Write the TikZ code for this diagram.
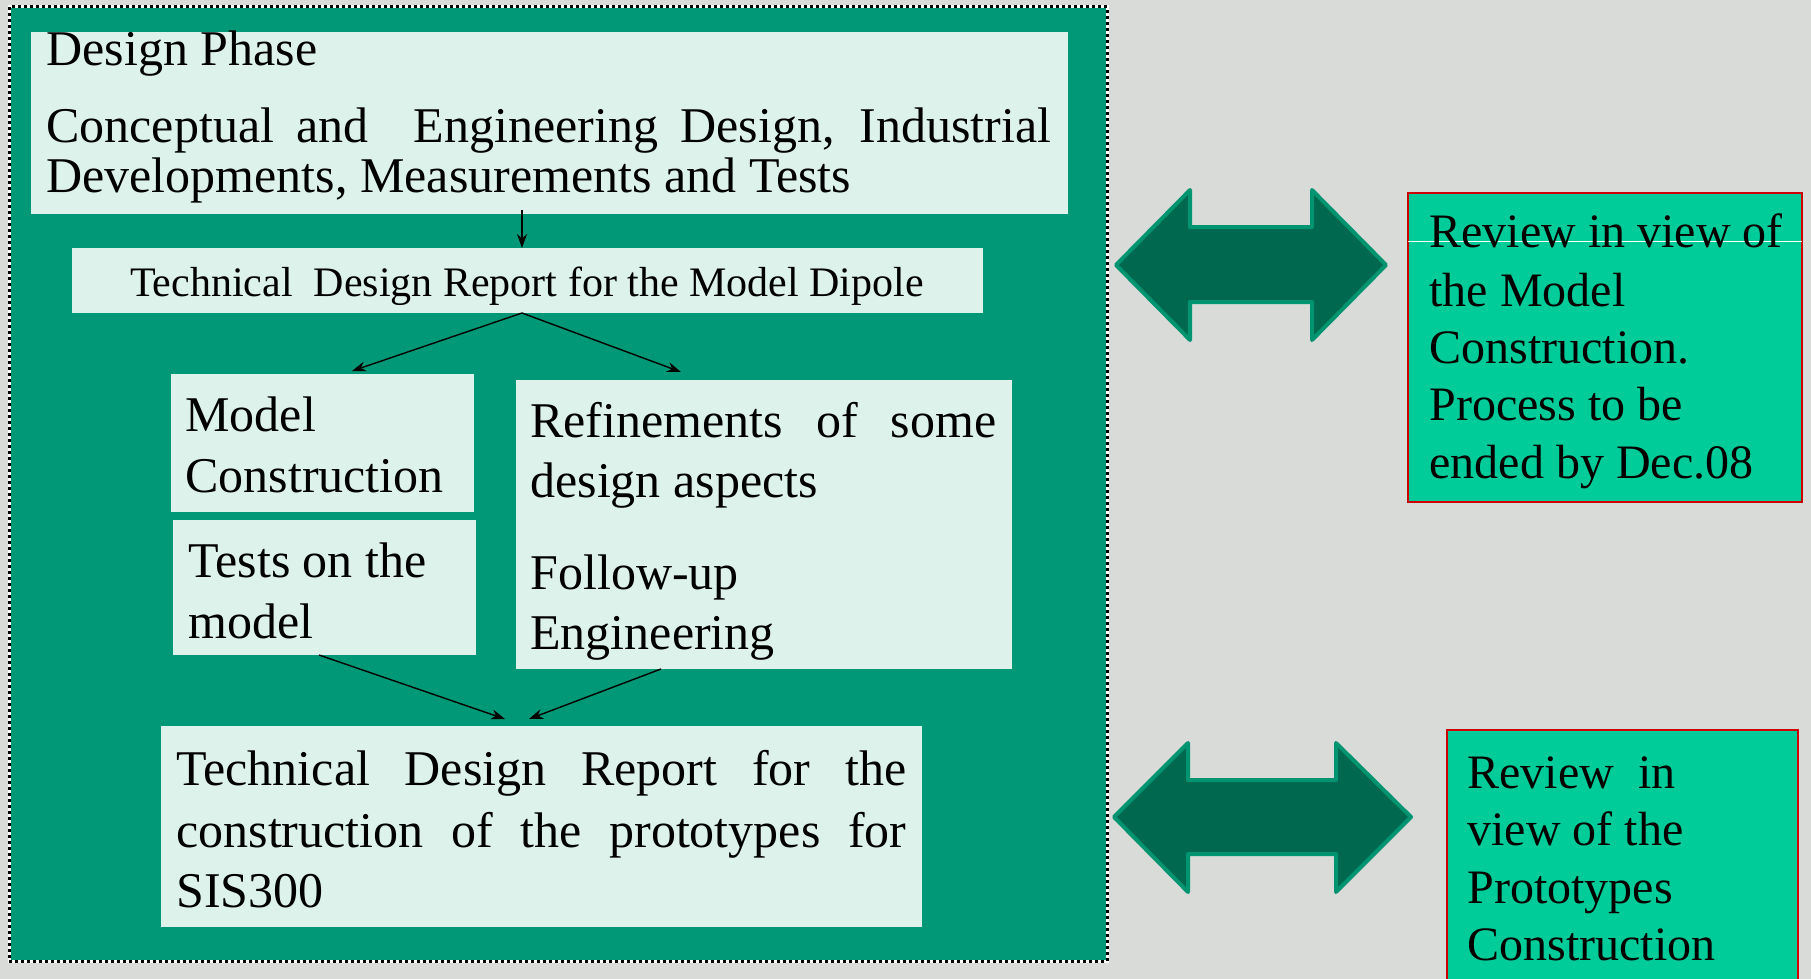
\documentclass[tikz,border=0pt]{standalone}
\usepackage{fontspec}
\setmainfont{Liberation Serif}
\usetikzlibrary{arrows.meta}
\definecolor{bgc}{HTML}{D8DBD7}
\definecolor{framec}{HTML}{009877}
\definecolor{mint}{HTML}{DDF2EA}
\definecolor{darr}{HTML}{00684E}
\definecolor{darredge}{HTML}{009470}
\definecolor{rboxc}{HTML}{00CC99}
\definecolor{rlinec}{HTML}{CC0000}
\tikzset{
  box/.style={fill=mint, draw=none, inner sep=0pt, outer sep=0pt, anchor=north west},
  rbox/.style={fill=rboxc, draw=rlinec, line width=1.4pt, inner sep=0pt, outer sep=0pt, anchor=north west},
  txt/.style={anchor=base west, inner sep=0pt, font=\fontsize{25}{30}\selectfont},
  rtxt/.style={anchor=base west, inner sep=0pt, font=\fontsize{24}{29}\selectfont},
  arr/.style={-{Stealth[length=7pt,width=5pt]}, line width=0.7pt, black},
  dblarrow/.style={fill=darr, draw=darredge, line width=2pt, line join=round}
}
\begin{document}
\begin{tikzpicture}[x=0.5pt,y=-0.5pt]
\clip (0,0) rectangle (1811,979);
\fill[bgc] (0,0) rectangle (1811,979);
% outer frame
\fill[framec] (9,7) rectangle (1107,961);
\draw[white, line width=1.5pt] (9,7) rectangle (1107,961);
\draw[black, line width=1.5pt, dash pattern=on 1.5pt off 1.5pt] (9,7) rectangle (1107,961);

% boxes
\node[box, minimum width=518.5pt, minimum height=91pt] (b1) at (31,32) {};
\node[box, minimum width=455.5pt, minimum height=32.5pt] (b2) at (72,248) {};
\node[box, minimum width=151.5pt, minimum height=69pt] (b3) at (171,374) {};
\node[box, minimum width=151.5pt, minimum height=67.5pt] (b4) at (173,520) {};
\node[box, minimum width=248pt, minimum height=144.5pt] (b5) at (516,380) {};
\node[box, minimum width=380.5pt, minimum height=100.5pt] (b6) at (161,726) {};

% box 1 text
\node[txt] (t1a) at (46,66) {Design Phase};
\node[txt] (t1b) at (46,143) {\makebox[502.5pt][s]{Conceptual and\ \ Engineering Design, Industrial}};
\node[txt] (t1c) at (46,192) {Developments, Measurements and Tests};
% box 2 text
\node[anchor=base, inner sep=0pt, font=\fontsize{21}{25}\selectfont] (t2) at (527,296) {Technical\ \ Design Report for the Model Dipole};
% box 3
\node[txt] (t3a) at (185,431) {Model};
\node[txt] (t3b) at (185,492) {Construction};
% box 4
\node[txt] (t4a) at (188,577) {Tests on the};
\node[txt] (t4b) at (188,638) {model};
% box 5
\node[txt] (t5a) at (530,437) {\makebox[233pt][s]{Refinements of some}};
\node[txt] (t5b) at (530,497) {design aspects};
\node[txt] (t5c) at (530,589) {Follow-up};
\node[txt] (t5d) at (530,649) {Engineering};
% box 6
\node[txt] (t6a) at (176,785) {\makebox[365pt][s]{Technical Design Report for the}};
\node[txt] (t6b) at (176,847) {\makebox[365pt][s]{construction of the prototypes for}};
\node[txt] (t6c) at (176,907) {SIS300};

% connectors
\coordinate (c1) at (522,0);
\coordinate (e1) at (352,371);
\coordinate (e2) at (681,372);
\coordinate (s3) at (319,0);
\coordinate (s4) at (661,0);
\coordinate (e3) at (505,719);
\coordinate (e4) at (529,719);
\draw[arr] ([yshift=2pt]b1.south -| c1) -- (b2.north -| c1);
\draw[arr] (b2.south -| c1) -- (e1);
\draw[arr] (b2.south -| c1) -- (e2);
\draw[arr] (b4.south -| s3) -- (e3);
\draw[arr] (b5.south -| s4) -- (e4);

% double arrows
\draw[dblarrow] (1116,265) -- (1190,190) -- (1190,227) -- (1312,227) -- (1312,190) -- (1386,265)
  -- (1312,340) -- (1312,302) -- (1190,302) -- (1190,340) -- cycle;
\draw[dblarrow] (1114,817) -- (1188,743) -- (1188,780) -- (1336,780) -- (1336,743) -- (1411,817)
  -- (1336,892) -- (1336,854) -- (1188,854) -- (1188,892) -- cycle;

% review boxes
\node[rbox, minimum width=197pt, minimum height=154.5pt] (r1) at (1408,193) {};
\draw[white, line width=0.4pt] (r1.west |- 0,241) -- (r1.east |- 0,241);
\node[rtxt] (r1a) at (1429,248) {Review in view of};
\node[rtxt] (r1b) at (1429,306) {the Model};
\node[rtxt] (r1c) at (1429,363) {Construction.};
\node[rtxt] (r1d) at (1429,420) {Process to be};
\node[rtxt] (r1e) at (1429,478) {ended by Dec.08};

\node[rbox, minimum width=175.5pt, minimum height=135pt] (r2) at (1447,730) {};
\node[rtxt] (r2a) at (1467,788) {Review\ \ in};
\node[rtxt] (r2b) at (1467,845) {view of the};
\node[rtxt] (r2c) at (1467,903) {Prototypes};
\node[rtxt] (r2d) at (1467,960) {Construction};
\end{tikzpicture}
\end{document}
